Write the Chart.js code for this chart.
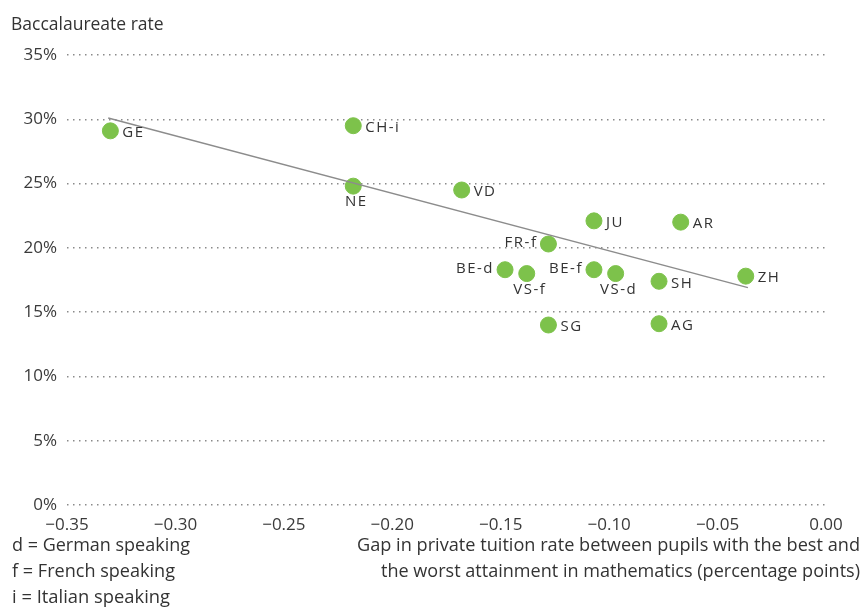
<!DOCTYPE html>
<html>
<head>
<meta charset="utf-8">
<script src="https://cdn.jsdelivr.net/npm/chart.js@4.4.1/dist/chart.umd.min.js"></script>
<style>
  html, body { margin: 0; padding: 0; background: #fff; }
  #contenedor { width: 865px; height: 608px; position: relative; }
</style>
</head>
<body>
<div id="contenedor"><canvas id="grafica"></canvas></div>
<script>
//Datos
var cantones = ["GE", "CH-i", "NE", "VD", "JU", "AR", "FR-f", "BE-d", "VS-f", "BE-f", "VS-d", "SH", "ZH", "SG", "AG"];
var brecha = [-0.330, -0.218, -0.218, -0.168, -0.107, -0.067, -0.128, -0.148, -0.138, -0.107, -0.097, -0.077, -0.037, -0.128, -0.077];
var tasa = [29.1, 29.5, 24.8, 24.5, 22.1, 22.0, 20.3, 18.3, 18.0, 18.3, 18.0, 17.4, 17.8, 14.0, 14.1];
//Linea de tendencia (extremos)
var tendenciaX = [-0.331, -0.036];
var tendenciaY = [30.1, 16.9];
//Ticks
var ticksY = [0, 5, 10, 15, 20, 25, 30, 35];
var ticksX = [-0.35, -0.30, -0.25, -0.20, -0.15, -0.10, -0.05, 0.00];

//Donde va cada etiqueta: derecha, izquierda o abajo
var lado = { "NE": "b", "VS-f": "b", "VS-d": "b", "FR-f": "l", "BE-d": "l", "BE-f": "l" };

var puntos = [];
for (let i = 0; i < cantones.length; i++) {
  puntos.push({ x: brecha[i], y: tasa[i], nombre: cantones[i] });
}
var linea = [];
for (let i = 0; i < tendenciaX.length; i++) {
  linea.push({ x: tendenciaX[i], y: tendenciaY[i] });
}

var fuenteBase = "'Open Sans', 'Noto Sans', sans-serif";

//Plugin para etiquetas de puntos y textos fuera del area
var textos = {
  id: "textos",
  afterDatasetsDraw(chart) {
    var ctx = chart.ctx;
    var meta = chart.getDatasetMeta(1);
    ctx.save();
    ctx.fillStyle = "#333";
    ctx.font = "15px " + fuenteBase;
    ctx.letterSpacing = "1.5px";
    ctx.textBaseline = "middle";
    meta.data.forEach(function (p, i) {
      var nom = cantones[i];
      var l = lado[nom] || "r";
      if (l == "r") {
        ctx.textAlign = "left";
        ctx.fillText(nom, p.x + 12, p.y + 2);
      } else if (l == "l") {
        ctx.textAlign = "right";
        ctx.fillText(nom, p.x - 11, p.y - 1);
      } else {
        ctx.textAlign = "center";
        ctx.fillText(nom, p.x + 3, p.y + 16);
      }
    });
    ctx.letterSpacing = "0px";
    //Titulo del eje Y
    ctx.textAlign = "left";
    ctx.font = "17.5px " + fuenteBase;
    ctx.fillText("Baccalaureate rate", 11, 25);
    //Notas al pie (condensadas con maxWidth)
    ctx.font = "19px " + fuenteBase;
    ctx.fillText("d = German speaking", 12, 546, 178);
    ctx.fillText("f = French speaking", 12, 572, 163);
    ctx.fillText("i = Italian speaking", 12, 598, 158);
    ctx.textAlign = "right";
    ctx.fillText("Gap in private tuition rate between pupils with the best and", 860, 546, 503);
    ctx.fillText("the worst attainment in mathematics (percentage points)", 860, 572, 479);
    ctx.restore();
  }
};

var ctx = document.getElementById("grafica").getContext("2d");
var miGrafica = new Chart(ctx, {
  type: "scatter",
  data: {
    datasets: [{
      type: "line",
      data: linea,
      borderColor: "#8c8c8c",
      borderWidth: 1.3,
      pointRadius: 0,
      fill: false
    }, {
      data: puntos,
      backgroundColor: "#7dc24b",
      borderColor: "#7dc24b",
      pointRadius: 8,
      pointHoverRadius: 8
    }]
  },
  options: {
    responsive: true,
    maintainAspectRatio: false,
    animation: false,
    layout: { padding: { left: 0, top: 55, right: 39, bottom: 73 } },
    plugins: { legend: { display: false }, tooltip: { enabled: false } },
    scales: {
      x: {
        type: "linear",
        min: -0.35,
        max: 0,
        afterBuildTicks: function (s) { s.ticks = ticksX.map(function (v) { return { value: v }; }); },
        afterFit: function (s) { s.height = 30; },
        grid: { display: false },
        border: { display: false },
        ticks: {
          color: "#3a3a3a",
          font: { size: 17, family: fuenteBase },
          padding: 2,
          callback: function (v) { return v < 0 ? "\u2212" + Math.abs(v).toFixed(2) : "0.00"; }
        }
      },
      y: {
        min: 0,
        max: 35,
        afterBuildTicks: function (s) { s.ticks = ticksY.map(function (v) { return { value: v }; }); },
        afterFit: function (s) { s.width = 67; },
        //Lineas de cuadricula punteadas
        border: { display: false, dash: [1.5, 4.5] },
        grid: {
          color: "#8a8a8a",
          lineWidth: 1.5,
          drawTicks: false
        },
        ticks: {
          color: "#3a3a3a",
          font: { size: 17, family: fuenteBase },
          padding: 10,
          callback: function (v) { return v + "%"; }
        }
      }
    }
  },
  plugins: [textos]
});
</script>
</body>
</html>
